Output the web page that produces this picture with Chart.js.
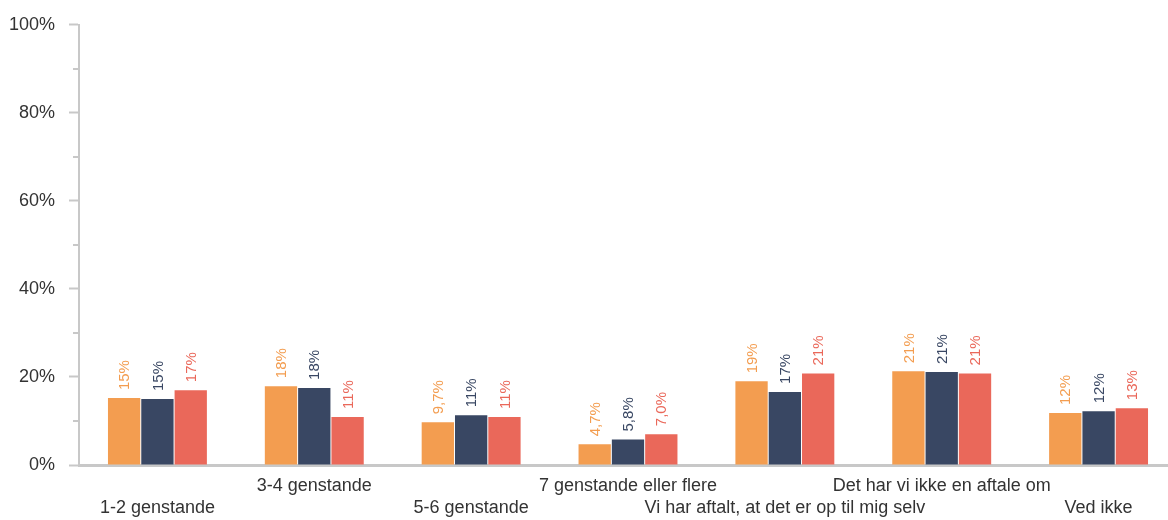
<!DOCTYPE html>
<html>
<head>
<meta charset="utf-8">
<script src="https://cdn.jsdelivr.net/npm/chart.js@4/dist/chart.umd.min.js"></script>
<style>
  html, body { margin: 0; padding: 0; overflow: hidden; background: #fff; }
  #wrap { width: 1177px; height: 520px; position: relative; }
</style>
</head>
<body>
<div id="wrap"><canvas id="chart"></canvas></div>
<script>
"use strict";

// categories + the three series (percent)
const categories = [
  "1-2 genstande",
  "3-4 genstande",
  "5-6 genstande",
  "7 genstande eller flere",
  "Vi har aftalt, at det er op til mig selv",
  "Det har vi ikke en aftale om",
  "Ved ikke"
];
const seriesA = [15.2, 17.9, 9.7, 4.7, 19.0, 21.3, 11.8];
const seriesB = [15.0, 17.5, 11.3, 5.8, 16.6, 21.1, 12.2];
const seriesC = [17.0, 10.9, 10.9, 7.0, 20.8, 20.8, 12.9];
const seriesNames = ["Serie 1", "Serie 2", "Serie 3"];
const yTicks = [0, 20, 40, 60, 80, 100];

const colors = ["#F39D50", "#394763", "#EA685A"];
const axisGrey = "#c8c8c8";
const textColor = "#333333";
const fontFamily = "'Liberation Sans', Arial, sans-serif";

// stagger the x labels on two rows
const staggered = categories.map((c, i) => (i % 2 === 0 ? ["", c] : [c, ""]));

function fmt(v) {
  if (v >= 10) return Math.round(v) + "%";
  return v.toFixed(1).replace(".", ",") + "%";
}

// rotated value labels above each bar
const barLabels = {
  id: "barLabels",
  afterDatasetsDraw(chart) {
    const ctx = chart.ctx;
    chart.data.datasets.forEach((ds, di) => {
      const meta = chart.getDatasetMeta(di);
      meta.data.forEach((bar, i) => {
        ctx.save();
        ctx.translate(bar.x, bar.y - 8);
        ctx.rotate(-Math.PI / 2);
        ctx.font = "15px " + fontFamily;
        ctx.fillStyle = ds.backgroundColor;
        ctx.textAlign = "left";
        ctx.textBaseline = "middle";
        ctx.fillText(fmt(ds.data[i]), 0, 1);
        ctx.restore();
      });
    });
  }
};

// short minor ticks on the y axis (10, 30, 50 ...)
const minorTicks = {
  id: "minorTicks",
  afterDraw(chart) {
    const y = chart.scales.y;
    const ctx = chart.ctx;
    ctx.save();
    ctx.strokeStyle = axisGrey;
    ctx.lineWidth = 2;
    for (let v = 10; v < 100; v += 20) {
      const py = Math.round(y.getPixelForValue(v));
      ctx.beginPath();
      ctx.moveTo(chart.chartArea.left - 6, py);
      ctx.lineTo(chart.chartArea.left, py);
      ctx.stroke();
    }
    ctx.restore();
  }
};

new Chart(document.getElementById("chart"), {
  type: "bar",
  data: {
    labels: staggered,
    datasets: [seriesA, seriesB, seriesC].map((d, i) => ({
      label: seriesNames[i],
      data: d,
      backgroundColor: colors[i],
      categoryPercentage: 0.637,
      barPercentage: 0.97
    }))
  },
  options: {
    responsive: true,
    maintainAspectRatio: false,
    animation: false,
    layout: { padding: { top: 23, right: 0, bottom: 0, left: 0 } },
    plugins: {
      legend: { display: false },
      tooltip: { enabled: false }
    },
    scales: {
      x: {
        grid: { display: true, drawOnChartArea: false, drawTicks: false },
        border: { display: true, color: axisGrey, width: 3 },
        ticks: {
          autoSkip: false,
          maxRotation: 0,
          minRotation: 0,
          padding: 10,
          color: textColor,
          font: { family: fontFamily, size: 18, lineHeight: 1.22 }
        },
        afterFit(scale) { scale.height = 55; }
      },
      y: {
        min: 0,
        max: 100,
        afterBuildTicks(scale) {
          scale.ticks = yTicks.map((v) => ({ value: v }));
        },
        grid: {
          drawOnChartArea: false,
          drawTicks: true,
          tickLength: 10,
          tickWidth: 2,
          tickColor: axisGrey
        },
        border: { display: true, color: axisGrey, width: 2 },
        ticks: {
          padding: 14,
          color: textColor,
          font: { family: fontFamily, size: 18 },
          callback: (v) => v + "%"
        },
        afterFit(scale) { scale.width = 79; }
      }
    }
  },
  plugins: [barLabels, minorTicks]
});
</script>
</body>
</html>
